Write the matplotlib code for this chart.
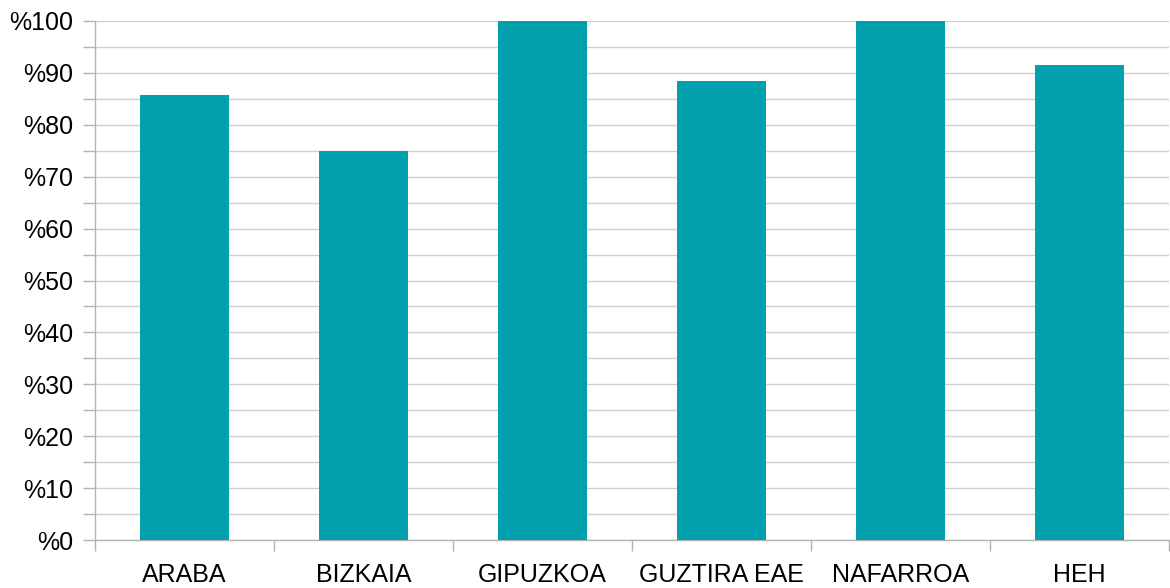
import numpy as np
import matplotlib.pyplot as plt
from matplotlib.ticker import MultipleLocator, FixedLocator

# Datuak
categories = ["ARABA", "BIZKAIA", "GIPUZKOA", "GUZTIRA EAE", "NAFARROA", "HEH"]
values = [85.7, 75.0, 100.0, 88.4, 100.0, 91.5]
y_ticks = list(range(0, 101, 10))
y_labels = ["%" + str(v) for v in y_ticks]

plt.rcParams['font.family'] = ['Liberation Sans', 'DejaVu Sans']

fig = plt.figure(figsize=(11.7, 5.88), dpi=100)
ax = fig.add_axes([95 / 1170, 1 - 540 / 588, (1169 - 95) / 1170, (540 - 21) / 588])

x = np.arange(len(categories))
ax.bar(x, values, width=0.5, color='#00a0ad', zorder=3)

ax.set_xlim(-0.5, len(categories) - 0.5)
ax.set_ylim(0, 100)

# Y ardatza
ax.set_yticks(y_ticks)
ax.set_yticklabels(y_labels, fontsize=18)
ax.yaxis.set_minor_locator(MultipleLocator(5))
ax.tick_params(axis='y', which='both', length=8.6, width=1, color='#b3b3b3', pad=7)
ax.grid(axis='y', which='both', color='#d0d0d0', linewidth=1.0, zorder=0)

# X ardatza
ax.set_xticks(x)
ax.set_xticklabels(categories, fontsize=18)
ax.xaxis.set_minor_locator(FixedLocator(np.arange(-0.5, len(categories), 1.0)))
ax.tick_params(axis='x', which='major', length=0, pad=16.5)
ax.tick_params(axis='x', which='minor', length=8, width=1, color='#b3b3b3')

for side in ['top', 'right']:
    ax.spines[side].set_visible(False)
for side in ['left', 'bottom']:
    ax.spines[side].set_color('#b3b3b3')
    ax.spines[side].set_linewidth(1)

fig.savefig('out.png', dpi=100)
